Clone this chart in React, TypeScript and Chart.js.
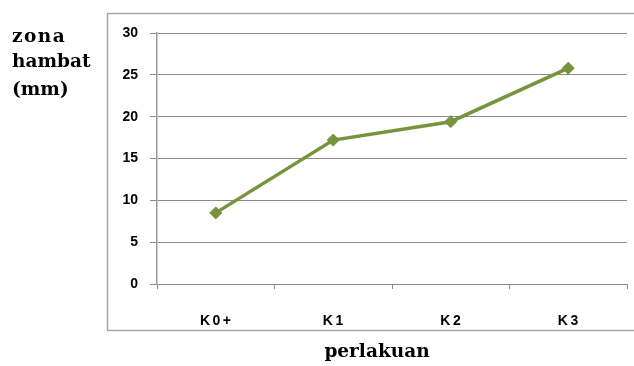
import React, { useEffect, useRef } from "react";
import { Chart, registerables } from "chart.js";

Chart.register(...registerables);

const categories = ["K0+", "K1", "K2", "K3"];
const zonaHambat = [8.5, 17.2, 19.4, 25.8];
const yTicks = [0, 5, 10, 15, 20, 25, 30];
const yTitleLines = ["zona", "hambat", "(mm)"];
const xTitle = "perlakuan";

const framePlugin = {
  id: "framePlugin",
  beforeDraw(chart: any) {
    const ctx = chart.ctx;
    ctx.save();
    ctx.fillStyle = "#ffffff";
    ctx.fillRect(0, 0, chart.width, chart.height);
    ctx.strokeStyle = "#a6a6a6";
    ctx.lineWidth = 1.5;
    ctx.strokeRect(107.5, 13.5, 540, 317);
    ctx.restore();
  },
  afterDraw(chart: any) {
    const ctx = chart.ctx;
    const xs = chart.scales.x;
    ctx.save();
    ctx.fillStyle = "#000000";
    ctx.font = "bold 14px 'Liberation Sans', Arial, sans-serif";
    ctx.textAlign = "center";
    ctx.textBaseline = "middle";
    (ctx as any).letterSpacing = "2.5px";
    categories.forEach((c, i) => {
      ctx.fillText(c, xs.getPixelForValue(i) + 1, 321);
    });
    (ctx as any).letterSpacing = "0px";
    ctx.font = "bold 18.5px 'DejaVu Serif', serif";
    ctx.textAlign = "left";
    ctx.textBaseline = "alphabetic";
    (ctx as any).letterSpacing = "1.5px";
    ctx.fillText(yTitleLines[0], 12, 42);
    (ctx as any).letterSpacing = "0px";
    ctx.fillText(yTitleLines[1], 12, 67);
    ctx.fillText(yTitleLines[2], 12, 95);
    ctx.textAlign = "center";
    ctx.fillText(xTitle, 377, 357);
    ctx.restore();
  },
};

export default function App() {
  const ref = useRef<HTMLCanvasElement>(null);
  useEffect(() => {
    const chart = new Chart(ref.current as HTMLCanvasElement, {
      type: "line",
      data: {
        labels: categories,
        datasets: [
          {
            data: zonaHambat,
            borderColor: "#77933C",
            backgroundColor: "#77933C",
            borderWidth: 3.5,
            pointStyle: "rectRot",
            pointRadius: 6,
            pointBorderWidth: 1,
            tension: 0,
          },
        ],
      },
      options: {
        responsive: false,
        animation: false,
        devicePixelRatio: 1,
        layout: { padding: { left: 107, top: 33, right: 5, bottom: 0 } },
        plugins: { legend: { display: false }, tooltip: { enabled: false } },
        scales: {
          x: {
            offset: true,
            afterFit: (s: any) => {
              s.height = 82;
            },
            grid: {
              offset: true,
              drawOnChartArea: false,
              drawTicks: true,
              tickLength: 5,
              color: "#8c8c8c",
              lineWidth: 1,
            },
            border: { display: true, color: "#8c8c8c", width: 1 },
            ticks: { display: false },
          },
          y: {
            min: 0,
            max: 30,
            afterFit: (s: any) => {
              s.width = 50;
            },
            afterBuildTicks: (s: any) => {
              s.ticks = yTicks.map((v) => ({ value: v }));
            },
            grid: {
              color: "#8c8c8c",
              lineWidth: 1,
              drawTicks: true,
              tickLength: 7,
            },
            border: { display: true, color: "#9a9a9a", width: 1.5 },
            ticks: {
              padding: 12,
              color: "#000000",
              font: { family: "'Liberation Sans', Arial, sans-serif", size: 14, weight: "bold" },
            },
          },
        },
      },
      plugins: [framePlugin],
    } as any);
    return () => chart.destroy();
  }, []);
  return (
    <canvas
      ref={ref}
      width={634}
      height={366}
      style={{ position: "fixed", left: 0, top: 0, width: 634, height: 366 }}
    />
  );
}
